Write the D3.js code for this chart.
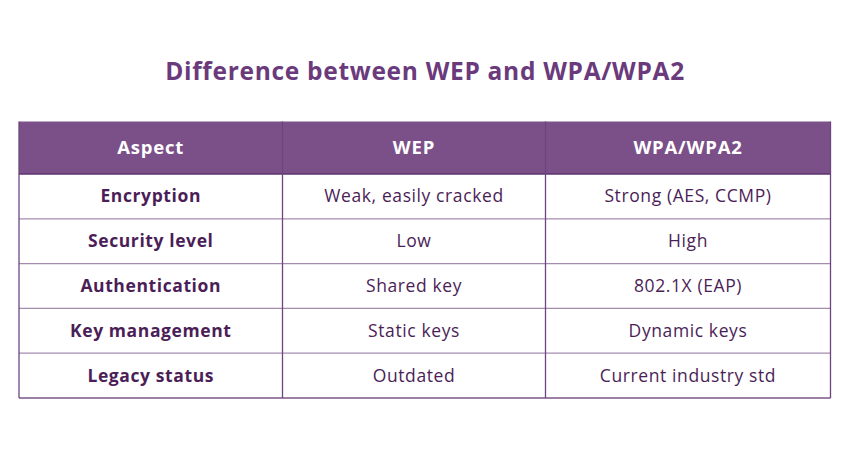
<!DOCTYPE html>
<html><head><meta charset="utf-8">
<script src="https://cdn.jsdelivr.net/npm/d3@7"></script>
<style>body{margin:0;background:#fff}</style>
</head><body>
<svg id="c" width="850" height="450"></svg>
<script>
const title = "Difference between WEP and WPA/WPA2";
const headers = ["Aspect", "WEP", "WPA/WPA2"];
const aspects = ["Encryption", "Security level", "Authentication", "Key management", "Legacy status"];
const wep = ["Weak, easily cracked", "Low", "Shared key", "Static keys", "Outdated"];
const wpa = ["Strong (AES, CCMP)", "High", "802.1X (EAP)", "Dynamic keys", "Current industry std"];

(function () {
const font = "'Open Sans', 'Noto Sans', sans-serif";
const svg = d3.select("#c");
const tableTop = 121.5, headerH = 52.5, rowH = 44.8;
const colEdges = [19, 282.5, 545.5, 830.5];
const purple = "#7b5089", border = "#7a5487", textDark = "#4b1e57";

svg.append("text").attr("x", 425).attr("y", 80).attr("text-anchor", "middle")
  .attr("font-family", font).attr("font-weight", 700).attr("font-size", 24.5)
  .attr("letter-spacing", 0.7).attr("fill", "#6a3a7c").text(title);

const y = d3.scaleLinear().domain([0, aspects.length]).range([tableTop + headerH, tableTop + headerH + rowH * aspects.length]);
const cx = i => (colEdges[i] + colEdges[i + 1]) / 2;

svg.append("rect").attr("x", colEdges[0]).attr("y", tableTop).attr("width", colEdges[3] - colEdges[0]).attr("height", headerH).attr("fill", purple);
svg.selectAll(".h").data(headers).enter().append("text")
  .attr("x", (d, i) => cx(i)).attr("y", tableTop + headerH / 2 + 6.5)
  .attr("text-anchor", "middle").attr("font-family", font).attr("font-weight", 700)
  .attr("font-size", 18.5).attr("letter-spacing", 0.8).attr("fill", "#fff").text(d => d);

const rows = aspects.map((a, i) => [a, wep[i], wpa[i]]);
const g = svg.selectAll(".r").data(rows).enter().append("g")
  .attr("transform", (d, i) => `translate(0,${(y(i) + y(i + 1)) / 2 + 6})`);
g.selectAll("text").data(d => d).enter().append("text")
  .attr("x", (d, j) => cx(j)).attr("y", 0)
  .attr("text-anchor", "middle").attr("font-family", font)
  .attr("font-weight", (d, j) => j === 0 ? 700 : 400)
  .attr("font-size", 17.5).attr("letter-spacing", 0.6).attr("fill", textDark).text(d => d);

const hl = d3.range(0, aspects.length + 1).map(i => y(i));
svg.selectAll(".hl").data(hl).enter().append("line")
  .attr("x1", colEdges[0]).attr("x2", colEdges[3]).attr("y1", d => d).attr("y2", d => d)
  .attr("stroke", (d, i) => i === 0 ? "#5e3270" : (i === hl.length - 1 ? border : "#a58bb0")).attr("stroke-width", 1.3);
svg.selectAll(".vl").data(colEdges).enter().append("line")
  .attr("x1", d => d).attr("x2", d => d).attr("y1", tableTop).attr("y2", y(aspects.length))
  .attr("stroke", "#6d4480").attr("stroke-width", 1.3);
})();
</script>
</body></html>
